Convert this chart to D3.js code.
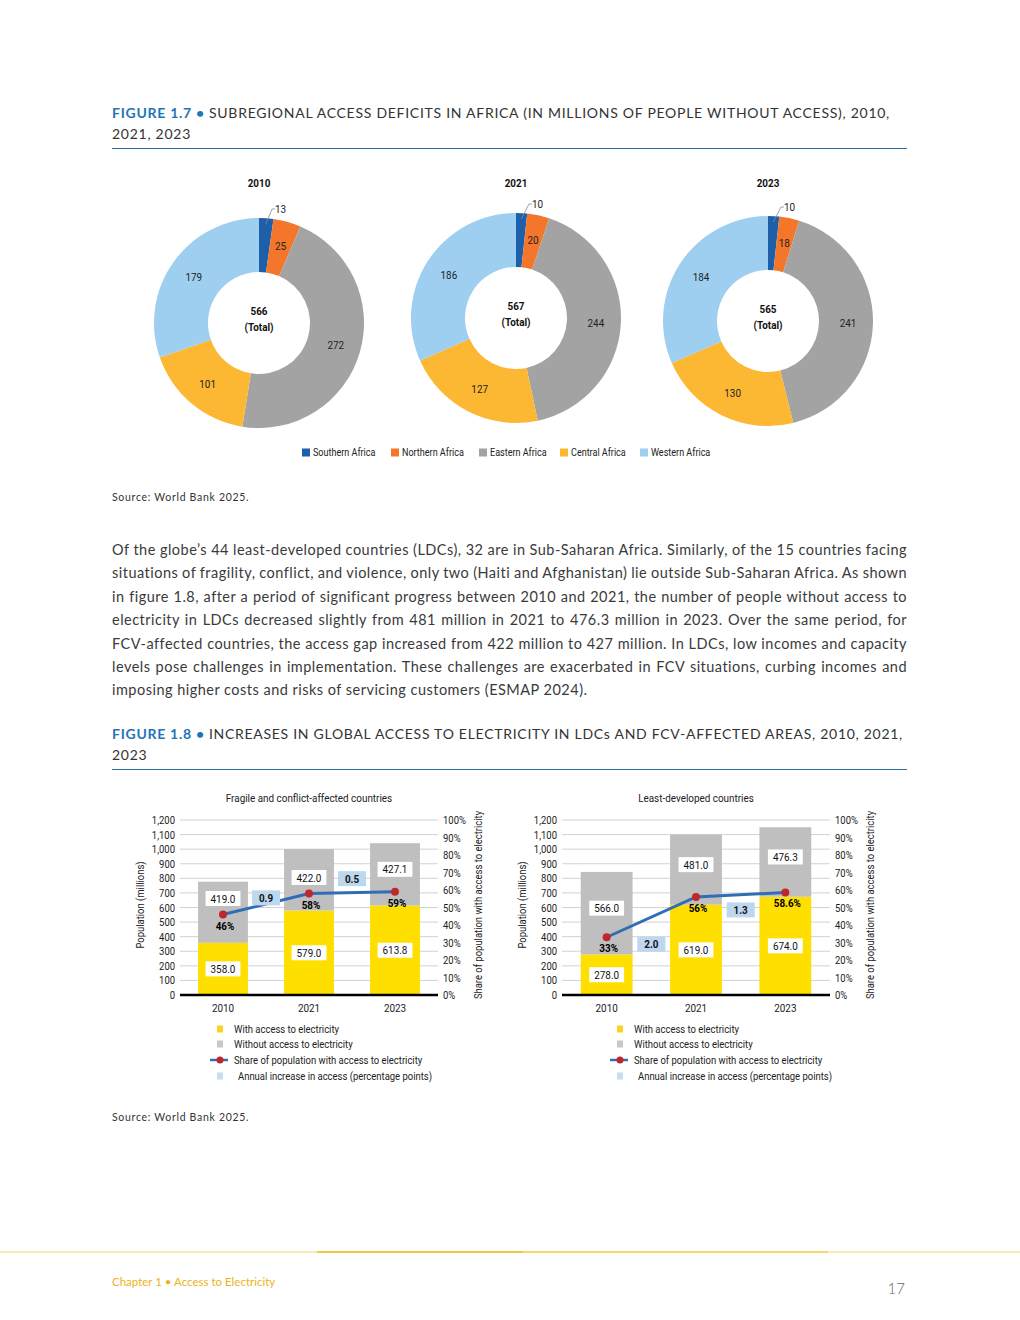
<!DOCTYPE html>
<html>
<head>
<meta charset="utf-8">
<script src="https://cdn.jsdelivr.net/npm/d3@7"></script>
<style>
  body { margin: 0; background: #fff; }
  svg text { font-family: Lato, 'Open Sans', sans-serif; }
  svg text.cond { font-family: Roboto, 'Noto Sans', sans-serif; }
</style>
</head>
<body>
<svg id="page" width="1020" height="1320"></svg>
<script>
// ---- data: figure 1.7 ----
const regions = ['Southern Africa', 'Northern Africa', 'Eastern Africa', 'Central Africa', 'Western Africa'];
const regionColors = ['#1d5fa9', '#f4762a', '#a3a3a3', '#fcb833', '#9ecff0'];
const donutYears = ['2010', '2021', '2023'];
const deficit2010 = [13, 25, 272, 101, 179];
const deficit2021 = [10, 20, 244, 127, 186];
const deficit2023 = [10, 18, 241, 130, 184];
const deficitTotals = [566, 567, 565];

// ---- data: figure 1.8 ----
const barYears = ['2010', '2021', '2023'];
const fcvWith = [358.0, 579.0, 613.8];
const fcvWithout = [419.0, 422.0, 427.1];
const fcvShare = [0.46, 0.58, 0.59];
const fcvShareLabels = ['46%', '58%', '59%'];
const fcvIncrease = ['0.9', '0.5'];
const ldcWith = [278.0, 619.0, 674.0];
const ldcWithout = [566.0, 481.0, 476.3];
const ldcShare = [0.33, 0.56, 0.586];
const ldcShareLabels = ['33%', '56%', '58.6%'];
const ldcIncrease = ['2.0', '1.3'];
const popTicks = [0, 100, 200, 300, 400, 500, 600, 700, 800, 900, 1000, 1100, 1200];
const shareTicks = [0, 0.1, 0.2, 0.3, 0.4, 0.5, 0.6, 0.7, 0.8, 0.9, 1];
const barLegend = ['With access to electricity', 'Without access to electricity',
  'Share of population with access to electricity', 'Annual increase in access (percentage points)'];

const paragraph = [
  'Of the globe’s 44 least-developed countries (LDCs), 32 are in Sub-Saharan Africa. Similarly, of the 15 countries facing',
  'situations of fragility, conflict, and violence, only two (Haiti and Afghanistan) lie outside Sub-Saharan Africa. As shown',
  'in figure 1.8, after a period of significant progress between 2010 and 2021, the number of people without access to',
  'electricity in LDCs decreased slightly from 481 million in 2021 to 476.3 million in 2023. Over the same period, for',
  'FCV-affected countries, the access gap increased from 422 million to 427 million. In LDCs, low incomes and capacity',
  'levels pose challenges in implementation. These challenges are exacerbated in FCV situations, curbing incomes and',
  'imposing higher costs and risks of servicing customers (ESMAP 2024).'
];

const svg = d3.select('#page');
const textCol = '#333';
const narrow = 0.86; // chart lettering is a condensed face in the source

// ---- headings ----
function figureTitle(y, label, line1, line2, width) {
  const t1 = svg.append('text').attr('x', 112).attr('y', y).style('font-size', '14px').attr('fill', textCol);
  t1.append('tspan').attr('fill', '#1f74b5').style('font-weight', 700).text(label + ' • ');
  t1.append('tspan').text(line1);
  const w = t1.node().getComputedTextLength();
  const n = (label + ' • ' + line1).length;
  const ls = (width - w) / n;
  t1.style('letter-spacing', ls + 'px');
  svg.append('text').attr('x', 112).attr('y', y + 21).style('font-size', '14px')
    .attr('fill', textCol).style('letter-spacing', ls + 'px').text(line2);
  svg.append('line').attr('x1', 112).attr('x2', 907).attr('y1', y + 30.5).attr('y2', y + 30.5)
    .attr('stroke', '#2c6e9f').attr('stroke-width', 1.2);
}
figureTitle(118, 'FIGURE 1.7', 'SUBREGIONAL ACCESS DEFICITS IN AFRICA (IN MILLIONS OF PEOPLE WITHOUT ACCESS), 2010,', '2021, 2023', 778);
figureTitle(739, 'FIGURE 1.8', 'INCREASES IN GLOBAL ACCESS TO ELECTRICITY IN LDCs AND FCV-AFFECTED AREAS, 2010, 2021,', '2023', 791);

[501, 1121].forEach(y => {
  svg.append('text').attr('x', 112).attr('y', y).style('font-size', '10.5px')
    .style('letter-spacing', '0.7px').attr('fill', textCol).text('Source: World Bank 2025.');
});

// ---- paragraph, justified line by line ----
paragraph.forEach((line, i) => {
  const t = svg.append('text').attr('x', 112).attr('y', 555 + i * 23.4)
    .style('font-size', '14.5px').style('letter-spacing', '0.48px').attr('fill', '#3a3a3a').text(line);
  if (i < paragraph.length - 1) {
    const w = t.node().getComputedTextLength();
    const spaces = line.split(' ').length - 1;
    t.attr('word-spacing', (795 - w) / spaces);
  }
});

// ---- figure 1.7 donuts ----
const donutData = [deficit2010, deficit2021, deficit2023];
const donutCx = [259, 516, 768];
const donutCy = [323, 318, 321];
const pie = d3.pie().sort(null).value(d => d);
const arc = d3.arc().innerRadius(51).outerRadius(105);
const labelArc = d3.arc().innerRadius(80).outerRadius(80);

donutData.forEach((vals, k) => {
  const cx = donutCx[k], cy = donutCy[k];
  const g = svg.append('g').attr('transform', `translate(${cx},${cy})`);
  const arcs = pie(vals);
  g.selectAll('path').data(arcs).enter().append('path')
    .attr('d', arc).attr('fill', (d, i) => regionColors[i]);

  g.selectAll('text.val').data(arcs.slice(1)).enter().append('text')
    .attr('class', 'cond val')
    .attr('transform', d => `translate(${labelArc.centroid(d)})`)
    .attr('text-anchor', 'middle').attr('dy', '0.35em')
    .style('font-size', '11.5px').attr('fill', '#222').text(d => d.data);

  // small slice gets a leader line
  const a0 = (arcs[0].startAngle + arcs[0].endAngle) / 2;
  const p1 = [Math.sin(a0) * 99, -Math.cos(a0) * 99];
  g.append('polyline')
    .attr('points', [p1, [13, -114], [16, -114]].map(p => p.join(',')).join(' '))
    .attr('fill', 'none').attr('stroke', '#8a8a8a').attr('stroke-width', 0.8);
  g.append('text').attr('class', 'cond').attr('x', 16).attr('y', -114).attr('dy', '0.35em')
    .style('font-size', '11.5px').attr('fill', '#222').text(arcs[0].data);

  g.append('text').attr('class', 'cond').attr('text-anchor', 'middle').attr('y', -8)
    .style('font-size', '11.5px').style('font-weight', 700).attr('fill', '#111').text(deficitTotals[k]);
  g.append('text').attr('class', 'cond').attr('text-anchor', 'middle').attr('y', 8)
    .style('font-size', '11.5px').style('font-weight', 700).attr('fill', '#111').text('(Total)');

  svg.append('text').attr('class', 'cond').attr('x', cx).attr('y', 187).attr('text-anchor', 'middle')
    .style('font-size', '11.5px').style('font-weight', 700).attr('fill', '#111').text(donutYears[k]);
});

const legendX = [302, 391, 479, 560, 640];
regions.forEach((r, i) => {
  svg.append('rect').attr('x', legendX[i]).attr('y', 448.5).attr('width', 8).attr('height', 8)
    .attr('fill', regionColors[i]);
  svg.append('text').attr('class', 'cond').attr('x', legendX[i] + 11).attr('y', 456)
    .style('font-size', '10.5px').attr('fill', '#222').text(r);
});

// ---- figure 1.8 panels ----
const yPop = d3.scaleLinear().domain([0, 1200]).range([995, 820]);
const yShare = d3.scaleLinear().domain([0, 1]).range([995, 820]);
const yellow = '#ffdf00', grey = '#bfbfbf', paleBlue = '#bdd7ee';

function drawPanel(p) {
  const x = d3.scaleBand().domain(barYears).range([p.x0, p.x1]).paddingInner(0.42).paddingOuter(0.21);
  const g = svg.append('g');
  const cxOf = i => x(barYears[i]) + x.bandwidth() / 2;

  g.selectAll('line.grid').data(popTicks.slice(1)).enter().append('line')
    .attr('x1', p.x0).attr('x2', p.x1).attr('y1', d => yPop(d)).attr('y2', d => yPop(d))
    .attr('stroke', '#c6c6c6').attr('stroke-width', 0.8);

  const left = g.append('g').attr('transform', `translate(${p.x0},0)`)
    .call(d3.axisLeft(yPop).tickValues(popTicks).tickFormat(d3.format(',')).tickSize(0).tickPadding(5));
  const right = g.append('g').attr('transform', `translate(${p.x1},0)`)
    .call(d3.axisRight(yShare).tickValues(shareTicks).tickFormat(d3.format('.0%')).tickSize(0).tickPadding(5));
  [left, right].forEach(a => {
    a.select('.domain').remove();
    a.selectAll('text').attr('class', 'cond').style('font-size', '11px').attr('fill', '#222');
  });

  // bars
  g.selectAll('rect.with').data(p.with).enter().append('rect')
    .attr('x', (d, i) => x(barYears[i])).attr('width', x.bandwidth())
    .attr('y', d => yPop(d)).attr('height', d => yPop(0) - yPop(d)).attr('fill', yellow);
  g.selectAll('rect.without').data(p.without).enter().append('rect')
    .attr('x', (d, i) => x(barYears[i])).attr('width', x.bandwidth())
    .attr('y', (d, i) => yPop(d + p.with[i])).attr('height', d => yPop(0) - yPop(d)).attr('fill', grey);

  g.append('line').attr('x1', p.x0).attr('x2', p.x1).attr('y1', yPop(0)).attr('y2', yPop(0))
    .attr('stroke', '#000').attr('stroke-width', 2.5);

  // boxed value labels
  function boxLabel(cx, cy, txt, fill, bold, minW) {
    const t = g.append('text').attr('class', 'cond').attr('x', cx).attr('y', cy).attr('dy', '0.36em')
      .attr('text-anchor', 'middle').style('font-size', '11.5px').style('font-weight', bold ? 700 : 400)
      .attr('fill', '#111').text(txt);
    const w = Math.max(t.node().getComputedTextLength() * narrow + 10, minW);
    g.insert('rect', () => t.node()).attr('x', cx - w / 2).attr('y', cy - 7.5)
      .attr('width', w).attr('height', 15).attr('fill', fill);
  }
  p.with.forEach((v, i) => {
    boxLabel(cxOf(i), yPop(v / 2), v.toFixed(1), '#fff', false, 0);
    let cy = yPop(v + p.without[i] / 2) - 5;
    if (Math.abs(cy - yShare(p.share[i])) < 22) cy = yShare(p.share[i]) - 16;
    boxLabel(cxOf(i), cy, p.without[i].toFixed(1), '#fff', false, 0);
  });

  // share line
  const line = d3.line().x((d, i) => cxOf(i)).y(d => yShare(d));
  g.append('path').datum(p.share).attr('d', line).attr('fill', 'none')
    .attr('stroke', '#2f6db5').attr('stroke-width', 3);
  g.selectAll('circle').data(p.share).enter().append('circle')
    .attr('cx', (d, i) => cxOf(i)).attr('cy', d => yShare(d)).attr('r', 4).attr('fill', '#c0272d');
  g.selectAll('text.share').data(p.shareLabels).enter().append('text')
    .attr('class', 'cond').attr('x', (d, i) => cxOf(i) + 2).attr('y', (d, i) => yShare(p.share[i]) + 11)
    .attr('dy', '0.35em').attr('text-anchor', 'middle')
    .style('font-size', '11.5px').style('font-weight', 700).attr('fill', '#000').text(d => d);

  // annual increase boxes sit on top of the line
  p.increase.forEach((v, i) => {
    boxLabel((cxOf(i) + cxOf(i + 1)) / 2, yShare(p.incAt[i]), v, paleBlue, true, 28);
  });

  // x labels and titles
  g.selectAll('text.xl').data(barYears).enter().append('text').attr('class', 'cond')
    .attr('x', d => x(d) + x.bandwidth() / 2).attr('y', 1012).attr('text-anchor', 'middle')
    .style('font-size', '11.5px').attr('fill', '#222').text(d => d);
  g.append('text').attr('class', 'cond').attr('x', (p.x0 + p.x1) / 2).attr('y', 802)
    .attr('text-anchor', 'middle').style('font-size', '11.5px').attr('fill', '#222').text(p.title);
  g.append('text').attr('class', 'cond').attr('transform', `translate(${p.x0 - 40},905) rotate(-90)`)
    .attr('text-anchor', 'middle').attr('dy', '0.35em').style('font-size', '11px').attr('fill', '#222')
    .text('Population (millions)');
  g.append('text').attr('class', 'cond').attr('transform', `translate(${p.x1 + 40},905) rotate(-90)`)
    .attr('text-anchor', 'middle').attr('dy', '0.35em').style('font-size', '11px').attr('fill', '#222')
    .text('Share of population with access to electricity');

  // legend
  const ly = [1029, 1044, 1060, 1076];
  const lx = p.legendX;
  g.append('rect').attr('x', lx).attr('y', ly[0] - 3.5).attr('width', 6).attr('height', 7).attr('fill', '#f9d423');
  g.append('rect').attr('x', lx).attr('y', ly[1] - 3.5).attr('width', 6).attr('height', 7).attr('fill', '#c8c8c8');
  g.append('line').attr('x1', lx - 7).attr('x2', lx + 11).attr('y1', ly[2]).attr('y2', ly[2])
    .attr('stroke', '#2f6db5').attr('stroke-width', 2.5);
  g.append('circle').attr('cx', lx + 3).attr('cy', ly[2]).attr('r', 3.5).attr('fill', '#c0272d');
  g.append('rect').attr('x', lx).attr('y', ly[3] - 3.5).attr('width', 6).attr('height', 7).attr('fill', '#c4def2');
  barLegend.forEach((t, i) => {
    g.append('text').attr('class', 'cond').attr('x', lx + (i === 3 ? 21 : 17)).attr('y', ly[i]).attr('dy', '0.35em')
      .style('font-size', '11px').attr('fill', '#222').text(t);
  });
}

drawPanel({
  x0: 180, x1: 438, title: 'Fragile and conflict-affected countries',
  with: fcvWith, without: fcvWithout, share: fcvShare, shareLabels: fcvShareLabels,
  increase: fcvIncrease, incAt: [0.555, 0.665], legendX: 217
});
drawPanel({
  x0: 562, x1: 830, title: 'Least-developed countries',
  with: ldcWith, without: ldcWithout, share: ldcShare, shareLabels: ldcShareLabels,
  increase: ldcIncrease, incAt: [0.29, 0.486], legendX: 617
});

// narrow the chart lettering
svg.selectAll('text.cond').each(function () {
  const w = this.getComputedTextLength();
  d3.select(this).attr('textLength', w * narrow).attr('lengthAdjust', 'spacingAndGlyphs');
});

// ---- footer ----
svg.append('line').attr('x1', 0).attr('x2', 1020).attr('y1', 1252).attr('y2', 1252)
  .attr('stroke', '#f6d873').attr('stroke-width', 1.2);
svg.append('line').attr('x1', 317).attr('x2', 523).attr('y1', 1252).attr('y2', 1252)
  .attr('stroke', '#f3c941').attr('stroke-width', 2);
svg.append('line').attr('x1', 523).attr('x2', 828).attr('y1', 1252).attr('y2', 1252)
  .attr('stroke', '#f4cf55').attr('stroke-width', 1.6);
svg.append('text').attr('x', 112).attr('y', 1286)
  .style('font-size', '11.5px').attr('fill', '#efb120').text('Chapter 1 • Access to Electricity');
svg.append('text').attr('x', 905).attr('y', 1294).attr('text-anchor', 'end')
  .style('font-size', '15px').style('font-weight', 300).attr('fill', '#666').text('17');
</script>
</body>
</html>
